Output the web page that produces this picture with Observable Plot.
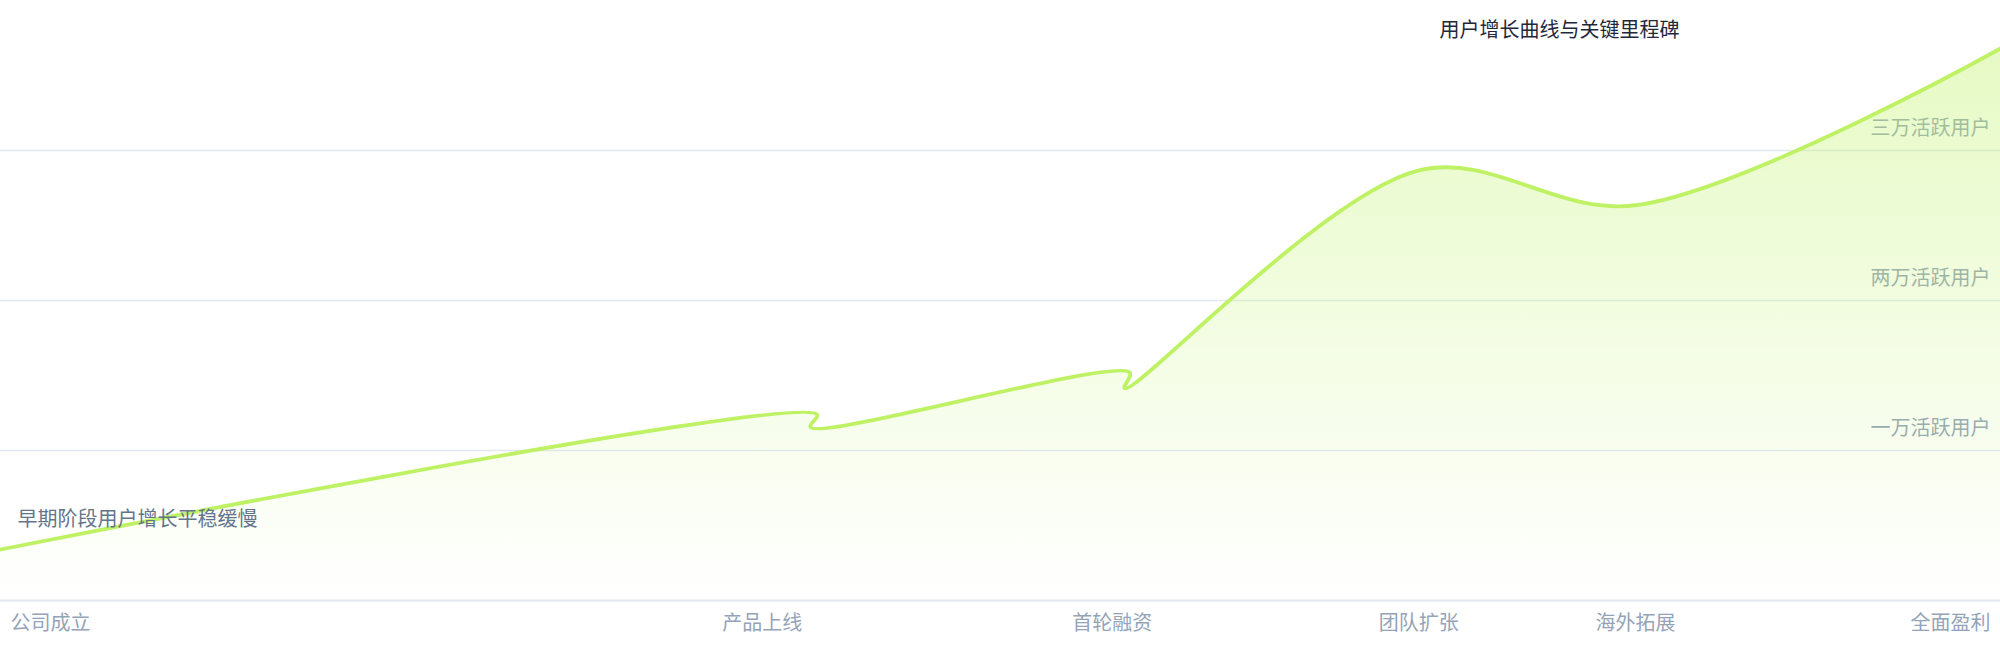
<!DOCTYPE html>
<html>
<head>
<meta charset="utf-8">
<script src="https://cdn.jsdelivr.net/npm/d3@7"></script>
<script src="https://cdn.jsdelivr.net/npm/@observablehq/plot@0.6"></script>
<style>
  html, body { margin: 0; padding: 0; background: #fff; }
  #chart svg { display: block; }
</style>
</head>
<body>
<div id="chart"></div>
<script>
// --- data ---
const months = [0, 49.0, 48.6, 67.75, 67.45, 85.1, 98.1, 120];
const users  = [3400, 12400, 11550, 15200, 14150, 28670, 26350, 36800];
const xTickValues = [0, 45.7, 66.7, 85.1, 98.1, 120];
const xTickLabels = ["公司成立", "产品上线", "首轮融资", "团队扩张", "海外拓展", "全面盈利"];
const yTickValues = [10000, 20000, 30000];
const yTickLabels = ["一万活跃用户", "两万活跃用户", "三万活跃用户"];
const titleText = "用户增长曲线与关键里程碑";
const startNote = "早期阶段用户增长平稳缓慢";

const data = months.map((m, i) => ({x: m, y: users[i]}));
const xTicks = xTickValues.map((v, i) => ({x: v, label: xTickLabels[i]}));
const yTicks = yTickValues.map((v, i) => ({y: v, label: yTickLabels[i]}));

const defs = () => {
  const svg = d3.create("svg:defs");
  const g = svg.append("linearGradient").attr("id", "areaGrad")
    .attr("x1", 0).attr("y1", 0).attr("x2", 0).attr("y2", 1);
  g.append("stop").attr("offset", "0%").attr("stop-color", "#bef264").attr("stop-opacity", 0.38);
  g.append("stop").attr("offset", "100%").attr("stop-color", "#bef264").attr("stop-opacity", 0.0);
  return svg.node();
};

const font = 20;
const chart = Plot.plot({
  width: 2000,
  height: 660,
  marginTop: 0,
  marginRight: 0,
  marginLeft: 0,
  marginBottom: 60,
  style: {fontFamily: "'Noto Sans CJK SC', sans-serif", background: "#fff"},
  x: {domain: [0, 120], axis: null},
  y: {domain: [0, 40000], axis: null},
  marks: [
    defs,
    Plot.ruleY(yTickValues, {stroke: "#e2e8f0", strokeWidth: 1.5}),
    Plot.ruleY([0], {stroke: "#e2e8f0", strokeWidth: 2}),
    Plot.text(yTicks, {y: "y", text: "label", frameAnchor: "right", dx: -10, dy: -22, textAnchor: "end", fill: "#94a3b8", fontSize: font}),
    Plot.areaY(data, {x: "x", y: "y", curve: "catmull-rom", fill: "url(#areaGrad)"}),
    Plot.lineY(data, {x: "x", y: "y", curve: "catmull-rom", stroke: "#bef264", strokeWidth: 3.8, strokeLinejoin: "round", strokeLinecap: "round"}),
    Plot.text(xTicks.slice(0, 1), {x: "x", text: "label", frameAnchor: "bottom", dy: 29, dx: 10, textAnchor: "start", fill: "#94a3b8", fontSize: font}),
    Plot.text(xTicks.slice(1, -1), {x: "x", text: "label", frameAnchor: "bottom", dy: 29, textAnchor: "middle", fill: "#94a3b8", fontSize: font}),
    Plot.text(xTicks.slice(-1), {x: "x", text: "label", frameAnchor: "bottom", dy: 29, dx: -10, textAnchor: "end", fill: "#94a3b8", fontSize: font}),
    Plot.text(data.slice(0, 1), {x: "x", y: "y", text: [startNote], dx: 17, dy: -30, textAnchor: "start", fill: "#64748b", fontSize: font}),
    Plot.text([titleText], {frameAnchor: "top-right", dx: -321, dy: 22, textAnchor: "end", fill: "#1e293b", fontSize: font})
  ]
});
document.getElementById("chart").append(chart);
</script>
</body>
</html>
